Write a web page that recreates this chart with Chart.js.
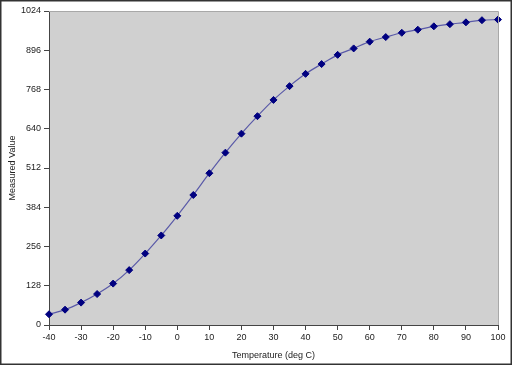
<!DOCTYPE html>
<html lang="en">
<head>
  <meta charset="UTF-8">
  <title>Measured Value vs Temperature</title>
  <script src="https://cdn.jsdelivr.net/npm/chart.js@4/dist/chart.umd.min.js"></script>
  <style>
    html, body { margin: 0; padding: 0; background: #fff; }
    canvas { display: block; }
  </style>
</head>
<body>
  <canvas id="chart" width="512" height="365"></canvas>
  <script>
    // Data
    const temperatures = [-40, -35, -30, -25, -20, -15, -10, -5, 0, 5, 10, 15, 20, 25, 30,
                          35, 40, 45, 50, 55, 60, 65, 70, 75, 80, 85, 90, 95, 100];
    const measured = [35, 50, 73, 101, 135, 179, 233, 292, 356, 424, 495, 562, 624, 681, 734,
                      779, 819, 851, 881, 902, 924, 939, 953, 963, 974, 981, 987, 994, 996];
    const yTicks = [0, 128, 256, 384, 512, 640, 768, 896, 1024];
    const xTicks = [-40, -30, -20, -10, 0, 10, 20, 30, 40, 50, 60, 70, 80, 90, 100];

    // Gray plot area, light top/right edge, frame round the picture
    const framePlugin = {
      id: 'frame',
      beforeDraw(chart) {
        const { ctx, chartArea: a } = chart;
        ctx.save();
        ctx.fillStyle = '#d0d0d0';
        ctx.fillRect(a.left, a.top, a.right - a.left, a.bottom - a.top);
        ctx.restore();
      },
      afterDraw(chart) {
        const { ctx, chartArea: a } = chart;
        ctx.save();
        ctx.strokeStyle = '#a8a8a8';
        ctx.lineWidth = 1;
        ctx.beginPath();
        ctx.moveTo(a.left, a.top + 0.5);
        ctx.lineTo(a.right + 0.5, a.top + 0.5);
        ctx.lineTo(a.right + 0.5, a.bottom);
        ctx.stroke();
        ctx.strokeStyle = '#333';
        ctx.lineWidth = 1.5;
        ctx.strokeRect(0.75, 0.75, chart.width - 1.5, chart.height - 1.5);
        ctx.restore();
      }
    };

    const font = { family: 'Liberation Sans, Arial, sans-serif', size: 9 };

    new Chart(document.getElementById('chart'), {
      type: 'line',
      data: {
        datasets: [{
          data: temperatures.map((t, i) => ({ x: t, y: measured[i] })),
          borderColor: '#5a5aa8',
          borderWidth: 1.2,
          pointStyle: 'rectRot',
          pointRadius: 3.5,
          pointBackgroundColor: '#000080',
          pointBorderColor: '#000080',
          pointBorderWidth: 1,
          tension: 0.3,
          cubicInterpolationMode: 'monotone',
          clip: false
        }]
      },
      options: {
        responsive: false,
        animation: false,
        layout: { padding: { left: 0, right: 14, top: 11, bottom: 0 } },
        plugins: { legend: { display: false }, tooltip: { enabled: false } },
        scales: {
          x: {
            type: 'linear',
            min: -40,
            max: 100,
            afterFit(scale) { scale.height = 40; },
            afterBuildTicks(scale) { scale.ticks = xTicks.map(v => ({ value: v })); },
            grid: { drawOnChartArea: false, tickLength: 5, color: '#444' },
            border: { color: '#444', width: 1 },
            ticks: { color: '#222', font, padding: 2, maxRotation: 0, callback: v => String(v) },
            title: { display: true, text: 'Temperature (deg C)', color: '#222', font, padding: { top: 0, bottom: 4 } }
          },
          y: {
            min: 0,
            max: 1024,
            afterFit(scale) { scale.width = 49; },
            afterBuildTicks(scale) { scale.ticks = yTicks.map(v => ({ value: v })); },
            grid: { drawOnChartArea: false, tickLength: 5, color: '#444' },
            border: { color: '#444', width: 1 },
            ticks: { color: '#222', font, padding: 3, callback: v => String(v) },
            title: { display: true, text: 'Measured Value', color: '#222', font, padding: { top: 7, bottom: 0 } }
          }
        }
      },
      plugins: [framePlugin]
    });
  </script>
</body>
</html>
